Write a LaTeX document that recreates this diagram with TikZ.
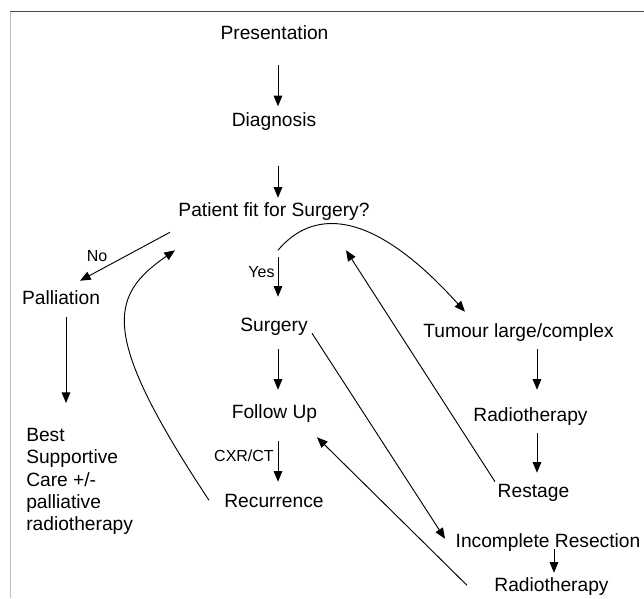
\documentclass[tikz,border=0pt]{standalone}
\usepackage{fontspec}
\setmainfont{Liberation Sans}
\usetikzlibrary{arrows.meta}
\begin{document}
\begin{tikzpicture}[x=0.75pt, y=-0.75pt,
  stage/.style={inner sep=0pt, anchor=base, text height=9.75pt, text depth=0pt, font=\fontsize{14.4}{16.7}\selectfont},
  lbl/.style={inner sep=0pt, anchor=base, font=\fontsize{12}{14}\selectfont},
  arr/.style={-{Triangle[length=8pt, width=6.5pt]}, line width=0.7pt}]
\useasboundingbox (0,0) rectangle (644,599);
\draw[black!70, line width=0.75pt] (10,12) -- (644,12);
\draw[black!25, line width=0.75pt] (10,12) -- (10,598);

\node[stage] (pres) at (274.5,40) {Presentation};
\node[stage] (diag) at (274,126.5) {Diagnosis};
\node[stage] (fit) at (274,217) {Patient fit for Surgery?};
\node[stage] (pall) at (61,305) {Palliation};
\node[inner sep=0pt, anchor=north west, align=left, font=\fontsize{14.4}{16.7}\selectfont] (bsc) at (26,428) {Best\\Supportive\\Care +/-\\palliative\\radiotherapy};
\node[stage] (surg) at (274,332) {Surgery};
\node[stage] (fol) at (274.5,419) {Follow Up};
\node[stage] (rec) at (274,508) {Recurrence};
\node[stage] (tum) at (518.5,338) {Tumour large/complex};
\node[stage] (rad1) at (530.5,422) {Radiotherapy};
\node[stage] (rest) at (533.5,498) {Restage};
\node[stage] (inc) at (548,548) {Incomplete Resection};
\node[stage] (rad2) at (551.5,592) {Radiotherapy};

\node[lbl] (no) at (97,262) {No};
\node[lbl] (yes) at (261.5,278) {Yes};
\node[lbl] (cxr) at (244,462) {CXR/CT};

% main column
\draw[arr] ([shift={(3.5,25)}]pres.south) -- ([shift={(4,-7)}]diag.north);
\draw[arr] ([shift={(4,39.5)}]diag.south) -- ([shift={(4,-6)}]fit.north);
\draw[arr] ([shift={(4,40)}]fit.south) -- ([shift={(4,-22)}]surg.north);
\draw[arr] ([shift={(4,17)}]surg.south) -- ([shift={(3.5,-16)}]fol.north);
\draw[arr] ([shift={(3.5,22)}]fol.south) -- ([shift={(4,-13)}]rec.north);

% palliation
\draw[arr] ([shift={(-104,15)}]fit.south) -- ([shift={(19,-11)}]pall.north);
\draw[arr] ([shift={(5,12)}]pall.south) -- ([shift={(40,-25)}]bsc.north west);

% tumour large/complex
\draw[arr] ([shift={(4,33)}]fit.south) .. controls (305,218) and (360,195) .. ([shift={(-53.5,-13)}]tum.north);
\draw[arr] ([shift={(18.5,11)}]tum.south) -- ([shift={(6.5,-19)}]rad1.north);
\draw[arr] ([shift={(6.5,11)}]rad1.south) -- ([shift={(3.5,-12)}]rest.north);
\draw[arr] ([shift={(-38.5,-3)}]rest.north) -- ([shift={(72,33)}]fit.south);

% incomplete resection
\draw[arr] ([shift={(38,1)}]surg.south) -- ([shift={(-103,4)}]inc.north);
\draw[arr] ([shift={(6,1)}]inc.south) -- ([shift={(2.5,-6)}]rad2.north);
\draw[arr] ([shift={(-84.5,-7)}]rad2.south) -- ([shift={(42.5,18)}]fol.south);

% recurrence
\draw[arr] ([shift={(-65,-8)}]rec.south) .. controls (99,334) and (109,296) .. ([shift={(-99,33)}]fit.south);
\end{tikzpicture}
\end{document}
